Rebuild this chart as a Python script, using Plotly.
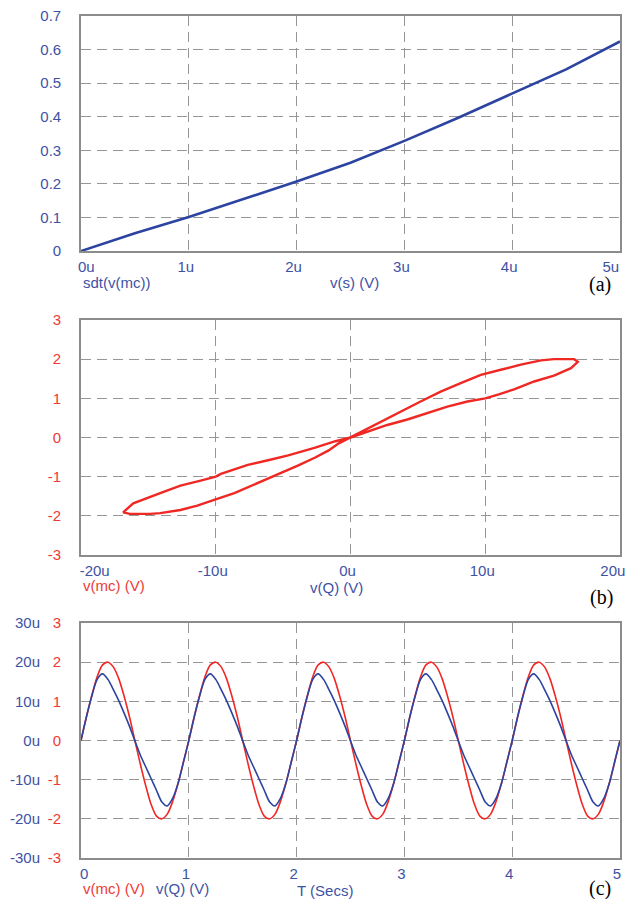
import plotly.graph_objects as go

# ---------------- data ----------------
# Panel (a): sdt(v(mc)) vs v(s)  (x in micro-volts)
vs_u = [0, 0.5, 1.0, 1.5, 2.0, 2.5, 3.0, 3.5, 4.0, 4.5, 5.0]
sdt_vmc = [0, 0.053, 0.101, 0.154, 0.207, 0.263, 0.328, 0.397, 0.470, 0.541, 0.624]

# Panel (b): pinched hysteresis loop v(mc) vs v(Q) (x in micro-volts)
loop_vq_u = [0, 1.24, 2.73, 4.22, 5.70, 7.19, 8.68, 10.0, 11.0, 12.14, 13.63, 15.1, 16.36, 16.87,
             16.6, 15.1, 14.13, 12.64, 11.15, 9.67, 8.18, 6.69, 5.2, 3.72, 2.23, 0.74, 0,
             -0.87, -1.62, -2.62, -3.87, -4.87, -6.12, -7.12, -8.62, -10.12, -11.37, -12.62, -14.12,
             -14.87, -16.37, -16.87,
             -16.12, -14.12, -12.62, -11.12, -10.0, -9.62, -7.62, -6.12, -4.62, -2.62, -1.12, 0]
loop_vmc = [0, 0.14, 0.32, 0.46, 0.62, 0.79, 0.92, 1.0, 1.1, 1.23, 1.43, 1.58, 1.77, 1.93,
            2.0, 2.0, 1.97, 1.86, 1.73, 1.60, 1.39, 1.17, 0.92, 0.66, 0.40, 0.12, 0,
            -0.15, -0.33, -0.51, -0.71, -0.86, -1.05, -1.18, -1.42, -1.59, -1.74, -1.85, -1.93,
            -1.95, -1.95, -1.91,
            -1.68, -1.42, -1.23, -1.10, -1.0, -0.93, -0.70, -0.58, -0.455, -0.26, -0.095, 0]

# Panel (c): time traces, T in seconds
t_secs = [0.00, 0.05, 0.10, 0.15, 0.20, 0.25, 0.30, 0.35, 0.40, 0.45,
          0.50, 0.55, 0.60, 0.65, 0.70, 0.75, 0.80, 0.85, 0.90, 0.95,
          1.00, 1.05, 1.10, 1.15, 1.20, 1.25, 1.30, 1.35, 1.40, 1.45,
          1.50, 1.55, 1.60, 1.65, 1.70, 1.75, 1.80, 1.85, 1.90, 1.95,
          2.00, 2.05, 2.10, 2.15, 2.20, 2.25, 2.30, 2.35, 2.40, 2.45,
          2.50, 2.55, 2.60, 2.65, 2.70, 2.75, 2.80, 2.85, 2.90, 2.95,
          3.00, 3.05, 3.10, 3.15, 3.20, 3.25, 3.30, 3.35, 3.40, 3.45,
          3.50, 3.55, 3.60, 3.65, 3.70, 3.75, 3.80, 3.85, 3.90, 3.95,
          4.00, 4.05, 4.10, 4.15, 4.20, 4.25, 4.30, 4.35, 4.40, 4.45,
          4.50, 4.55, 4.60, 4.65, 4.70, 4.75, 4.80, 4.85, 4.90, 4.95,
          5.00]
v_mc = [0, 0.60, 1.15, 1.63, 1.93, 2.0, 1.88, 1.58, 1.13, 0.60, 0.0, -0.60, -1.15, -1.63, -1.93, -2.0, -1.88, -1.56, -1.10, -0.56,
        0, 0.60, 1.15, 1.63, 1.93, 2.0, 1.88, 1.58, 1.13, 0.60, 0.0, -0.60, -1.15, -1.63, -1.93, -2.0, -1.88, -1.56, -1.10, -0.56,
        0, 0.60, 1.15, 1.63, 1.93, 2.0, 1.88, 1.58, 1.13, 0.60, 0.0, -0.60, -1.15, -1.63, -1.93, -2.0, -1.88, -1.56, -1.10, -0.56,
        0, 0.60, 1.15, 1.63, 1.93, 2.0, 1.88, 1.58, 1.13, 0.60, 0.0, -0.60, -1.15, -1.63, -1.93, -2.0, -1.88, -1.56, -1.10, -0.56,
        0, 0.60, 1.15, 1.63, 1.93, 2.0, 1.88, 1.58, 1.13, 0.60, 0.0, -0.60, -1.15, -1.63, -1.93, -2.0, -1.88, -1.56, -1.10, -0.56,
        0]
v_q_u = [0, 6.0, 11.3, 15.6, 17.0, 15.6, 13.0, 10.2, 7.0, 3.6, -0.1, -3.7, -6.7, -9.7, -12.7, -15.7, -16.7, -14.8, -11.0, -5.5,
         0, 6.0, 11.3, 15.6, 17.0, 15.6, 13.0, 10.2, 7.0, 3.6, -0.1, -3.7, -6.7, -9.7, -12.7, -15.7, -16.7, -14.8, -11.0, -5.5,
         0, 6.0, 11.3, 15.6, 17.0, 15.6, 13.0, 10.2, 7.0, 3.6, -0.1, -3.7, -6.7, -9.7, -12.7, -15.7, -16.7, -14.8, -11.0, -5.5,
         0, 6.0, 11.3, 15.6, 17.0, 15.6, 13.0, 10.2, 7.0, 3.6, -0.1, -3.7, -6.7, -9.7, -12.7, -15.7, -16.7, -14.8, -11.0, -5.5,
         0, 6.0, 11.3, 15.6, 17.0, 15.6, 13.0, 10.2, 7.0, 3.6, -0.1, -3.7, -6.7, -9.7, -12.7, -15.7, -16.7, -14.8, -11.0, -5.5,
         0]

# tick labels
NB = "\u00a0"
a_xticks = [0, 1, 2, 3, 4, 5]
a_xtext = [NB * 4 + "0u", "1u", "2u", "3u", "4u", "5u" + NB * 3]
a_yticks = [0, 0.1, 0.2, 0.3, 0.4, 0.5, 0.6, 0.7]
a_ytext = ["0", "0.1", "0.2", "0.3", "0.4", "0.5", "0.6", "0.7"]
b_xticks = [-20, -10, 0, 10, 20]
b_xtext = [NB * 8 + "-20u", "-10u", "0u", "10u", "20u" + NB * 2]
v_ticks = [-3, -2, -1, 0, 1, 2, 3]
v_text = ["-3", "-2", "-1", "0", "1", "2", "3"]
c_xticks = [0, 1, 2, 3, 4, 5]
c_xtext = [NB * 3 + "0", "1", "2", "3", "4", "5"]
q_ticks = [-30, -20, -10, 0, 10, 20, 30]
q_text = ["-30u", "-20u", "-10u", "0u", "10u", "20u", "30u"]

# ---------------- style ----------------
W, H = 626, 899
BLUE_LINE = "rgb(44,68,160)"
BLUE_TXT = "rgb(62,82,165)"
RED_LINE = "rgb(240,40,36)"
RED_TXT = "rgb(238,58,52)"
GRID = "rgb(150,150,150)"
BORDER = "rgb(140,140,140)"
FONT = "Liberation Sans, Arial, sans-serif"
FS = 15

def px_x(p):
    return p / W

def px_y(p):
    return 1 - p / H

XDOM = [px_x(81), px_x(620)]

fig = go.Figure()

fig.add_trace(go.Scatter(x=vs_u, y=sdt_vmc, mode="lines", xaxis="x", yaxis="y",
                         line=dict(color=BLUE_LINE, width=2.6), showlegend=False))
fig.add_trace(go.Scatter(x=loop_vq_u, y=loop_vmc, mode="lines", xaxis="x2", yaxis="y2",
                         line=dict(color=RED_LINE, width=2.4), showlegend=False))
fig.add_trace(go.Scatter(x=t_secs, y=v_mc, mode="lines", xaxis="x3", yaxis="y3",
                         line=dict(color=RED_LINE, width=1.6, shape="spline", smoothing=0.8),
                         showlegend=False))
fig.add_trace(go.Scatter(x=t_secs, y=v_q_u, mode="lines", xaxis="x3", yaxis="y4",
                         line=dict(color=BLUE_LINE, width=1.6, shape="spline", smoothing=0.8),
                         showlegend=False))

def xax(dom_anchor, rng, tv, tt, color):
    return dict(domain=XDOM, anchor=dom_anchor, range=rng, tickvals=tv, ticktext=tt,
                showgrid=True, gridcolor=GRID, griddash="10px,6px", gridwidth=1.2,
                zeroline=False, showline=True, mirror=True, linecolor=BORDER, linewidth=1.6,
                ticks="", tickfont=dict(family=FONT, size=FS, color=color),
                ticklabelstandoff=1, ticklabelshift=-3, ticklabeloverflow="allow",
                automargin=False, fixedrange=True)

def yax(dom, anchor, rng, tv, tt, color, grid=True):
    return dict(domain=dom, anchor=anchor, range=rng, tickvals=tv, ticktext=tt,
                showgrid=grid, gridcolor=GRID, griddash="10px,6px", gridwidth=1.2,
                zeroline=False, showline=True, mirror=True, linecolor=BORDER, linewidth=1.6,
                ticks="", tickfont=dict(family=FONT, size=FS, color=color),
                ticklabelstandoff=15, ticklabeloverflow="allow",
                automargin=False, fixedrange=True)

DOM_A = [px_y(251), px_y(16)]
DOM_B = [px_y(555), px_y(320)]
DOM_C = [px_y(858), px_y(623)]

layout = dict(
    width=W, height=H, margin=dict(l=0, r=0, t=0, b=0, autoexpand=False),
    paper_bgcolor="white", plot_bgcolor="white",
    xaxis=xax("y", [0, 5], a_xticks, a_xtext, BLUE_TXT),
    yaxis=yax(DOM_A, "x", [0, 0.7], a_yticks, a_ytext, BLUE_TXT),
    xaxis2=xax("y2", [-20, 20], b_xticks, b_xtext, BLUE_TXT),
    yaxis2=yax(DOM_B, "x2", [-3, 3], v_ticks, v_text, RED_TXT),
    xaxis3=xax("y3", [0, 5], c_xticks, c_xtext, BLUE_TXT),
    yaxis3=yax(DOM_C, "x3", [-3, 3], v_ticks, v_text, RED_TXT),
    yaxis4=dict(domain=DOM_C, overlaying="y3", anchor="free", position=px_x(40),
                range=[-30, 30], tickvals=q_ticks, ticktext=q_text, showgrid=False,
                zeroline=False, showline=False, ticks="",
                tickfont=dict(family=FONT, size=FS, color=BLUE_TXT),
                ticklabelstandoff=0, ticklabeloverflow="allow",
                automargin=False, fixedrange=True),
)
fig.update_layout(**layout)

annots = [
    ("sdt(v(mc))", 81, 282, BLUE_TXT, "left"),
    ("v(s) (V)", 328, 283, BLUE_TXT, "left"),
    ("v(mc) (V)", 81, 585, RED_TXT, "left"),
    ("v(Q) (V)", 308, 587, BLUE_TXT, "left"),
    ("v(mc) (V)", 81, 888, RED_TXT, "left"),
    ("v(Q) (V)", 154, 888, BLUE_TXT, "left"),
    ("T (Secs)", 295, 890, BLUE_TXT, "left"),
]
for txt, x, y, col, anc in annots:
    fig.add_annotation(text=txt, x=px_x(x), y=px_y(y), xref="paper", yref="paper",
                       xanchor=anc, yanchor="middle", showarrow=False,
                       font=dict(family=FONT, size=FS, color=col))

for txt, x, y in [("(a)", 600, 284), ("(b)", 601, 597), ("(c)", 600, 888)]:
    fig.add_annotation(text=txt, x=px_x(x), y=px_y(y), xref="paper", yref="paper",
                       xanchor="center", yanchor="middle", showarrow=False,
                       font=dict(family="Liberation Serif, Times New Roman, serif", size=20,
                                 color="black"))

fig.write_html("out.html", config={"displayModeBar": False},
               post_script="document.body.style.margin='0';document.body.style.overflow='hidden';")
